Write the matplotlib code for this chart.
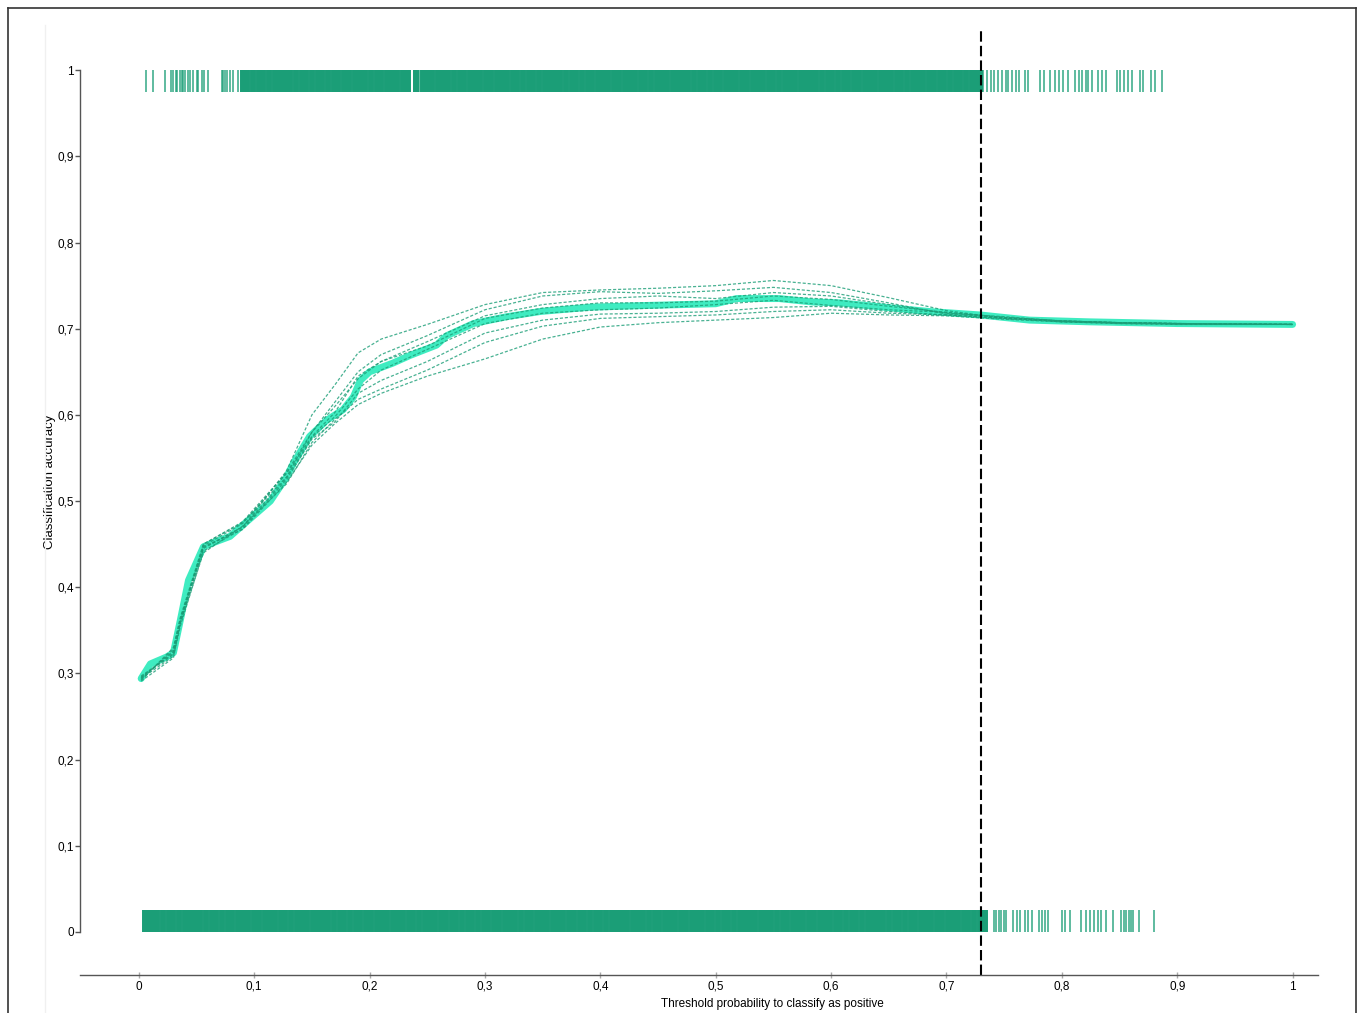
import matplotlib
matplotlib.use("Agg")
import matplotlib.pyplot as plt
from matplotlib.lines import Line2D

plt.rcParams['font.family'] = ['Liberation Sans', 'DejaVu Sans']

# mean accuracy curve over thresholds
mean_x = [0.002, 0.01, 0.024, 0.03, 0.036, 0.043, 0.056, 0.067, 0.079, 0.09, 0.102, 0.114,
          0.128, 0.134, 0.148, 0.163, 0.177, 0.186, 0.192, 0.2, 0.22, 0.235, 0.258, 0.267,
          0.29, 0.319, 0.348, 0.391, 0.44, 0.5, 0.518, 0.555, 0.584, 0.608, 0.657, 0.685,
          0.729, 0.772, 0.824, 0.9, 1.0]
mean_y = [0.294, 0.311, 0.319, 0.324, 0.362, 0.408, 0.447, 0.453, 0.459, 0.472, 0.486, 0.500,
          0.528, 0.544, 0.575, 0.594, 0.606, 0.621, 0.640, 0.650, 0.660, 0.669, 0.681, 0.692,
          0.706, 0.714, 0.720, 0.725, 0.727, 0.729, 0.735, 0.735, 0.731, 0.730, 0.7235, 0.720,
          0.716, 0.710, 0.708, 0.706, 0.705]

# individual folds
fold_x = [0.002, 0.03, 0.036, 0.056, 0.09, 0.128, 0.15, 0.17, 0.19, 0.21, 0.25, 0.3, 0.35,
          0.4, 0.45, 0.5, 0.55, 0.6, 0.65, 0.7, 0.75, 0.8, 0.85, 0.9, 1.0]
fold1 = [0.296, 0.322, 0.360, 0.445, 0.470, 0.535, 0.600, 0.635, 0.672, 0.688, 0.705, 0.728, 0.742,
         0.745, 0.747, 0.750, 0.756, 0.750, 0.736, 0.721, 0.712, 0.708, 0.706, 0.705, 0.705]
fold2 = [0.292, 0.330, 0.365, 0.450, 0.475, 0.528, 0.580, 0.615, 0.650, 0.670, 0.692, 0.722, 0.738,
         0.743, 0.741, 0.744, 0.748, 0.742, 0.730, 0.717, 0.713, 0.709, 0.707, 0.706, 0.705]
fold3 = [0.295, 0.325, 0.360, 0.448, 0.474, 0.532, 0.575, 0.603, 0.645, 0.662, 0.685, 0.715, 0.728,
         0.735, 0.738, 0.735, 0.742, 0.738, 0.728, 0.718, 0.714, 0.709, 0.707, 0.706, 0.705]
fold4 = [0.293, 0.328, 0.364, 0.446, 0.470, 0.527, 0.574, 0.598, 0.630, 0.652, 0.676, 0.706, 0.718,
         0.722, 0.724, 0.728, 0.733, 0.727, 0.722, 0.719, 0.713, 0.708, 0.707, 0.706, 0.705]
fold5 = [0.294, 0.320, 0.355, 0.442, 0.468, 0.525, 0.572, 0.592, 0.625, 0.640, 0.662, 0.695, 0.710,
         0.717, 0.718, 0.720, 0.725, 0.726, 0.720, 0.716, 0.712, 0.709, 0.707, 0.706, 0.705]
fold6 = [0.297, 0.323, 0.358, 0.440, 0.471, 0.520, 0.568, 0.595, 0.618, 0.630, 0.652, 0.684, 0.703,
         0.712, 0.714, 0.716, 0.720, 0.722, 0.718, 0.716, 0.712, 0.709, 0.707, 0.706, 0.705]
fold7 = [0.291, 0.318, 0.360, 0.447, 0.467, 0.522, 0.565, 0.590, 0.612, 0.625, 0.645, 0.665, 0.688,
         0.702, 0.707, 0.710, 0.713, 0.718, 0.716, 0.715, 0.711, 0.708, 0.706, 0.705, 0.705]
fold8 = [0.295, 0.326, 0.362, 0.450, 0.476, 0.533, 0.580, 0.610, 0.642, 0.662, 0.680, 0.712, 0.724,
         0.730, 0.730, 0.732, 0.738, 0.734, 0.726, 0.719, 0.713, 0.709, 0.707, 0.706, 0.705]
folds = [fold1, fold2, fold3, fold4, fold5, fold6, fold7, fold8]

# predicted probabilities, positives (top rug)
pos_sparse = [0.006, 0.012, 0.0225, 0.0283, 0.0297, 0.032, 0.0335, 0.0355, 0.037, 0.0385, 0.04,
              0.0427, 0.0442, 0.047, 0.05, 0.0514, 0.0544, 0.0563, 0.06, 0.0717, 0.073, 0.0745,
              0.076, 0.0789, 0.0817, 0.086, 0.2385, 0.2425,
              0.7314, 0.7348, 0.7383, 0.7414, 0.7448, 0.7478, 0.7513, 0.753, 0.7565, 0.76, 0.763,
              0.7678, 0.7704, 0.7808, 0.7846, 0.790, 0.7938, 0.7972, 0.8007, 0.805, 0.811, 0.8146,
              0.8172, 0.8206, 0.8228, 0.8258, 0.831, 0.8345, 0.8384, 0.8475, 0.85, 0.8535, 0.857,
              0.861, 0.8674, 0.87, 0.8776, 0.881, 0.887]
pos_dense = [0.090, 0.094, 0.099, 0.104, 0.108, 0.113, 0.118, 0.122, 0.127, 0.131, 0.136, 0.141,
             0.145, 0.150, 0.155, 0.159, 0.164, 0.169, 0.173, 0.178, 0.182, 0.187, 0.192, 0.196,
             0.201, 0.206, 0.210, 0.215, 0.219, 0.224, 0.229, 0.233, 0.2405, 0.246, 0.250,
             0.254, 0.259, 0.264, 0.268, 0.273, 0.278, 0.282, 0.287, 0.291, 0.296, 0.301, 0.305,
             0.310, 0.315, 0.319, 0.324, 0.328, 0.333, 0.338, 0.342, 0.347, 0.352, 0.356, 0.361,
             0.365, 0.370, 0.375, 0.379, 0.384, 0.389, 0.393, 0.398, 0.402, 0.407, 0.412, 0.416,
             0.421, 0.426, 0.430, 0.435, 0.439, 0.444, 0.449, 0.453, 0.458, 0.463, 0.467, 0.472,
             0.476, 0.481, 0.486, 0.490, 0.495, 0.500, 0.504, 0.509, 0.513, 0.518, 0.523, 0.527,
             0.532, 0.537, 0.541, 0.546, 0.550, 0.555, 0.560, 0.564, 0.569, 0.574, 0.578, 0.583,
             0.587, 0.592, 0.597, 0.601, 0.606, 0.611, 0.615, 0.620, 0.624, 0.629, 0.634, 0.638,
             0.643, 0.648, 0.652, 0.657, 0.661, 0.666, 0.671, 0.675, 0.680, 0.685, 0.689, 0.694,
             0.698, 0.703, 0.708, 0.712, 0.717, 0.722, 0.726, 0.729]

# predicted probabilities, negatives (bottom rug)
neg_sparse = [0.7412, 0.7432, 0.7452, 0.7476, 0.7496, 0.7519, 0.7577, 0.7611, 0.764, 0.7678,
              0.7707, 0.7741, 0.7802, 0.7831, 0.7854, 0.788, 0.8004, 0.803, 0.8074, 0.8169,
              0.8206, 0.8241, 0.8276, 0.8313, 0.8342, 0.8386, 0.8443, 0.8515, 0.8536, 0.8559,
              0.8582, 0.8602, 0.8616, 0.8668, 0.8795]
neg_dense = [0.005, 0.008, 0.012, 0.016, 0.021, 0.026, 0.030, 0.035, 0.040, 0.044, 0.049, 0.053,
             0.058, 0.063, 0.067, 0.072, 0.077, 0.081, 0.086, 0.090, 0.095, 0.100, 0.104, 0.109,
             0.114, 0.118, 0.123, 0.127, 0.132, 0.137, 0.141, 0.146, 0.151, 0.155, 0.160, 0.164,
             0.169, 0.174, 0.178, 0.183, 0.188, 0.192, 0.197, 0.201, 0.206, 0.211, 0.215, 0.220,
             0.225, 0.229, 0.234, 0.238, 0.243, 0.248, 0.252, 0.257, 0.262, 0.266, 0.271, 0.275,
             0.280, 0.285, 0.289, 0.294, 0.299, 0.303, 0.308, 0.312, 0.317, 0.322, 0.326, 0.331,
             0.336, 0.340, 0.345, 0.349, 0.354, 0.359, 0.363, 0.368, 0.373, 0.377, 0.382, 0.386,
             0.391, 0.396, 0.400, 0.405, 0.410, 0.414, 0.419, 0.423, 0.428, 0.433, 0.437, 0.442,
             0.447, 0.451, 0.456, 0.460, 0.465, 0.470, 0.474, 0.479, 0.484, 0.488, 0.493, 0.497,
             0.502, 0.507, 0.511, 0.516, 0.521, 0.525, 0.530, 0.534, 0.539, 0.544, 0.548, 0.553,
             0.558, 0.562, 0.567, 0.571, 0.576, 0.581, 0.585, 0.590, 0.595, 0.599, 0.604, 0.608,
             0.613, 0.618, 0.622, 0.627, 0.632, 0.636, 0.641, 0.645, 0.650, 0.655, 0.659, 0.664,
             0.669, 0.673, 0.678, 0.682, 0.687, 0.692, 0.696, 0.701, 0.706, 0.710, 0.715, 0.719,
             0.724, 0.729, 0.733]

threshold = 0.73

xticks = [0, 0.1, 0.2, 0.3, 0.4, 0.5, 0.6, 0.7, 0.8, 0.9, 1]
xticklabels = ['0', '0,1', '0,2', '0,3', '0,4', '0,5', '0,6', '0,7', '0,8', '0,9', '1']
yticks = [0, 0.1, 0.2, 0.3, 0.4, 0.5, 0.6, 0.7, 0.8, 0.9, 1]
yticklabels = ['0', '0,1', '0,2', '0,3', '0,4', '0,5', '0,6', '0,7', '0,8', '0,9', '1']

green = '#1b9e77'

fig = plt.figure(figsize=(13.58, 10.13), dpi=100)
ax = fig.add_axes([80/1358, 1-975/1013, (1318-80)/1358, (975-28)/1013])

# rugs
ax.vlines(pos_dense, 0.975, 1.0, color=green, lw=4.3, alpha=1.0)
ax.vlines(pos_sparse, 0.975, 1.0, color=green, lw=1.4, alpha=0.7)
ax.vlines(neg_dense, 0.0, 0.025, color=green, lw=4.3, alpha=1.0)
ax.vlines(neg_sparse, 0.0, 0.025, color=green, lw=1.4, alpha=0.7)

# curves
ax.plot(mean_x, mean_y, color='#1de9b6', lw=5, alpha=0.85, solid_capstyle='round')
for f in folds:
    ax.plot(fold_x, f, color=green, lw=0.9, ls=(0, (2.5, 1.5)), alpha=0.8)

ax.axvline(threshold, color='black', lw=1.5, ls=(0, (5, 2)))

ax.set_xlim(-0.051, 1.022)
ax.set_ylim(-0.05, 1.049)
ax.set_xticks(xticks)
ax.set_xticklabels(xticklabels, fontsize=8.5)
ax.set_yticks(yticks)
ax.set_yticklabels(yticklabels, fontsize=8.5)
ax.tick_params(axis='y', length=3.5, width=1, color='#555555', pad=1)
ax.tick_params(axis='x', length=4, width=1, color='#aaaaaa', pad=2, direction='inout')

for s in ['top', 'right']:
    ax.spines[s].set_visible(False)
ax.spines['left'].set_bounds(0, 1)
ax.spines['left'].set_color('#555555')
ax.spines['bottom'].set_color('#555555')
ax.spines['left'].set_linewidth(1.0)
ax.spines['bottom'].set_linewidth(1.0)

ax.set_xlabel('Threshold probability to classify as positive', fontsize=8.5)
ax.xaxis.set_label_coords((772-80)/1238, -(998-975)/947)
ax.set_ylabel('Classification accuracy', fontsize=9.5)
ax.yaxis.set_label_coords((56-80)/1238, (975-482)/947)

# outer frame of the original figure
fig.add_artist(Line2D([8/1358, 8/1358], [0, 1-8/1013], color='#333333', lw=1.2))
fig.add_artist(Line2D([8/1358, 1356/1358], [1-8/1013, 1-8/1013], color='#333333', lw=1.2))
fig.add_artist(Line2D([1356/1358, 1356/1358], [0, 1-8/1013], color='#333333', lw=1.2))
fig.add_artist(Line2D([45/1358, 45/1358], [0, 1-25/1013], color='#f0f0f0', lw=1.0))

fig.savefig('out.png', dpi=100)
